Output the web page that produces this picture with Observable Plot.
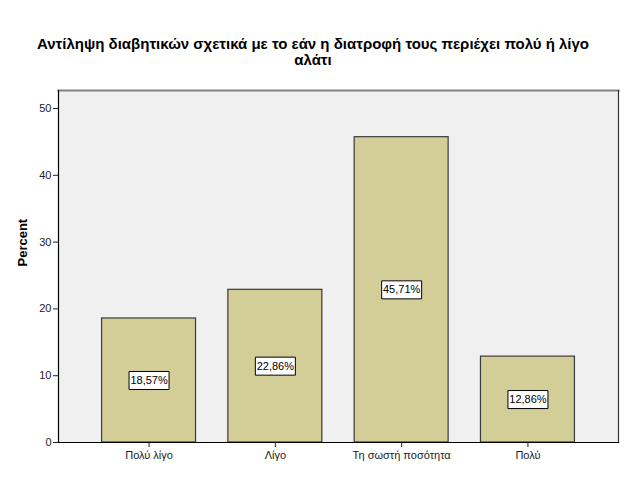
<!DOCTYPE html>
<html>
<head>
<meta charset="utf-8">
<script src="https://cdn.jsdelivr.net/npm/d3@7"></script>
<script src="https://cdn.jsdelivr.net/npm/@observablehq/plot@0.6"></script>
<style>
  html, body { margin: 0; padding: 0; background: #ffffff; }
  body { width: 626px; height: 501px; font-family: "Liberation Sans", Arial, sans-serif; }
  #title { height: 70px; box-sizing: border-box; padding-top: 36px; text-align: center;
           font-weight: bold; font-size: 15px; line-height: 16px; color: #000; }
  svg { display: block; }
</style>
</head>
<body>
<div id="title">Αντίληψη διαβητικών σχετικά με το εάν η διατροφή τους περιέχει πολύ ή λίγο<br>αλάτι</div>
<div id="chart"></div>
<script>
const categories = ["Πολύ λίγο", "Λίγο", "Τη σωστή ποσότητα", "Πολύ"];
const percents = [18.57, 22.86, 45.71, 12.86];
const yTicks = [0, 10, 20, 30, 40, 50];
const yLabel = "Percent";

const data = categories.map((c, i) => ({cat: c, value: percents[i]}));
const fmt = v => v.toFixed(2).replace(".", ",") + "%";

const boxSymbol = { draw(ctx) { ctx.rect(-20, -9, 40, 18); } };

const chart = Plot.plot({
  width: 626,
  height: 431,
  marginLeft: 58,
  marginRight: 8,
  marginTop: 20,
  marginBottom: 59,
  style: { fontFamily: "'Liberation Sans', Arial, sans-serif", background: "transparent" },
  x: { domain: categories, paddingInner: 0.256, paddingOuter: 0.345, round: false },
  y: { domain: [0, 52.7] },
  marks: [
    Plot.frame({ fill: "#f0f0f0", stroke: null }),
    Plot.barY(data, { x: "cat", y: "value", fill: "#d3ce97", stroke: "#3a3a3a", strokeWidth: 1.2 }),
    Plot.frame({ anchor: "top", stroke: "#808080", strokeWidth: 2 }),
    Plot.frame({ anchor: "right", stroke: "#333", strokeWidth: 1.2 }),
    Plot.frame({ anchor: "left", stroke: "#000", strokeWidth: 1.2 }),
    Plot.frame({ anchor: "bottom", stroke: "#000", strokeWidth: 1.2 }),
    Plot.dot(data, { x: "cat", y: d => d.value / 2, symbol: boxSymbol, fill: "white", stroke: "#000", strokeWidth: 1 }),
    Plot.text(data, { x: "cat", y: d => d.value / 2, text: d => fmt(d.value), fontSize: 11, fill: "#000" }),
    Plot.axisY({ ticks: yTicks, tickSize: 5, tickPadding: 2, label: null, fontSize: 11, color: "#222", tickFormat: d => String(d) }),
    Plot.axisX({ tickSize: 5, tickPadding: 4, label: null, fontSize: 11, color: "#222" }),
    Plot.text([yLabel], { text: d => d, frameAnchor: "left", rotate: -90, dx: -36, fontSize: 13, fontWeight: "bold", fill: "#000" })
  ]
});
document.getElementById("chart").appendChild(chart);
</script>
</body>
</html>
